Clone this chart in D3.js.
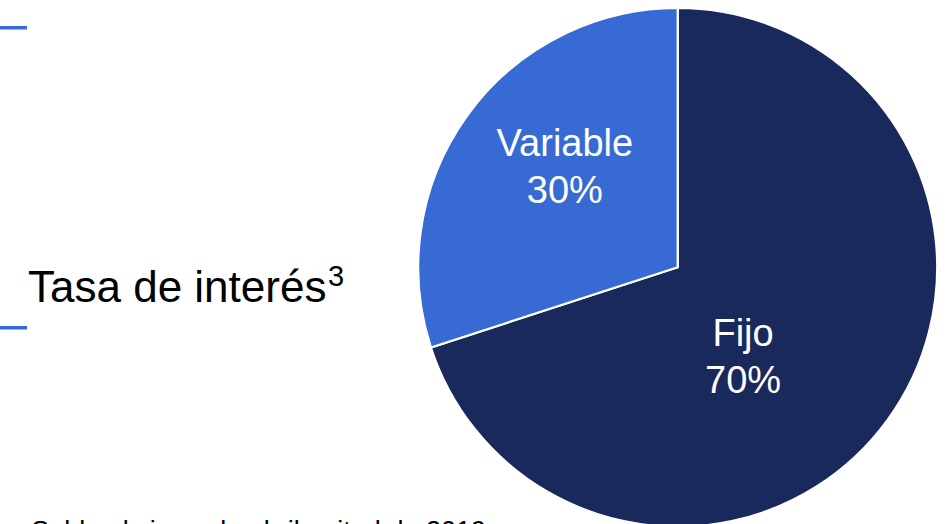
<!DOCTYPE html>
<html>
<head>
<meta charset="utf-8">
<script src="https://cdn.jsdelivr.net/npm/d3@7"></script>
<style>
  body { margin: 0; background: #fff; }
  svg { display: block; }
</style>
</head>
<body>
<div id="chart"></div>
<script>
var categories = ["Fijo", "Variable"];
var values = [70, 30];
var valueLabels = ["70%", "30%"];
var colors = ["#1a295c", "#376bd3"];

var svgWidth = 951;
var svgHeight = 524;

var svg = d3.select("#chart")
  .append("svg")
  .attr("width", svgWidth)
  .attr("height", svgHeight)
  .style("font-family", "'Liberation Sans', Arial, sans-serif");

// small accent bars on the left
svg.append("rect")
  .attr("x", 0).attr("y", 26)
  .attr("width", 27).attr("height", 3.5)
  .attr("fill", "#376bd3");
svg.append("rect")
  .attr("x", 0).attr("y", 326)
  .attr("width", 27).attr("height", 3.5)
  .attr("fill", "#376bd3");

var title = svg.append("text")
  .attr("x", 28)
  .attr("y", 302)
  .attr("fill", "#000")
  .style("font-size", "44px");
title.append("tspan").text("Tasa de interés");
title.append("tspan")
  .attr("x", 328)
  .attr("dy", -16)
  .style("font-size", "29px")
  .text("3");

// footnote, mostly below the visible area
svg.append("text")
  .attr("x", 486)
  .attr("y", 540)
  .attr("text-anchor", "end")
  .attr("fill", "#000")
  .style("font-size", "27px")
  .text("Saldo al cierre de abril, mitad de 2019");

var cx = 677.7, cy = 267.3, radius = 259.5;

var pie = d3.pie()
  .sort(null)
  .value(d => d.value);

var data = categories.map((c, i) => ({ name: c, value: values[i], label: valueLabels[i], color: colors[i] }));
var arcs = pie(data);

var arc = d3.arc()
  .innerRadius(0)
  .outerRadius(radius);

var g = svg.append("g")
  .attr("transform", `translate(${cx}, ${cy})`);

g.selectAll("path")
  .data(arcs)
  .enter()
  .append("path")
  .attr("d", arc)
  .attr("fill", d => d.data.color)
  .attr("stroke", "#fff")
  .attr("stroke-width", 2.2)
  .attr("stroke-linejoin", "miter");

// label placement: radius fraction and nudge for each slice
var labelRadius = { "Fijo": 0.44, "Variable": 0.585 };
var labelNudge = { "Fijo": [-27, 22], "Variable": [10, -12] };

var labels = g.selectAll("g.lbl")
  .data(arcs)
  .enter()
  .append("g")
  .attr("class", "lbl")
  .attr("transform", function(d) {
    var r = radius * labelRadius[d.data.name];
    var c = d3.arc().innerRadius(r).outerRadius(r).centroid(d);
    var n = labelNudge[d.data.name];
    return `translate(${c[0] + n[0]}, ${c[1] + n[1]})`;
  });

labels.append("text")
  .attr("text-anchor", "middle")
  .attr("y", -10)
  .attr("fill", "#fff")
  .style("font-size", "38px")
  .text(d => d.data.name);

labels.append("text")
  .attr("text-anchor", "middle")
  .attr("y", 37)
  .attr("fill", "#fff")
  .style("font-size", "38px")
  .text(d => d.data.label);
</script>
</body>
</html>
